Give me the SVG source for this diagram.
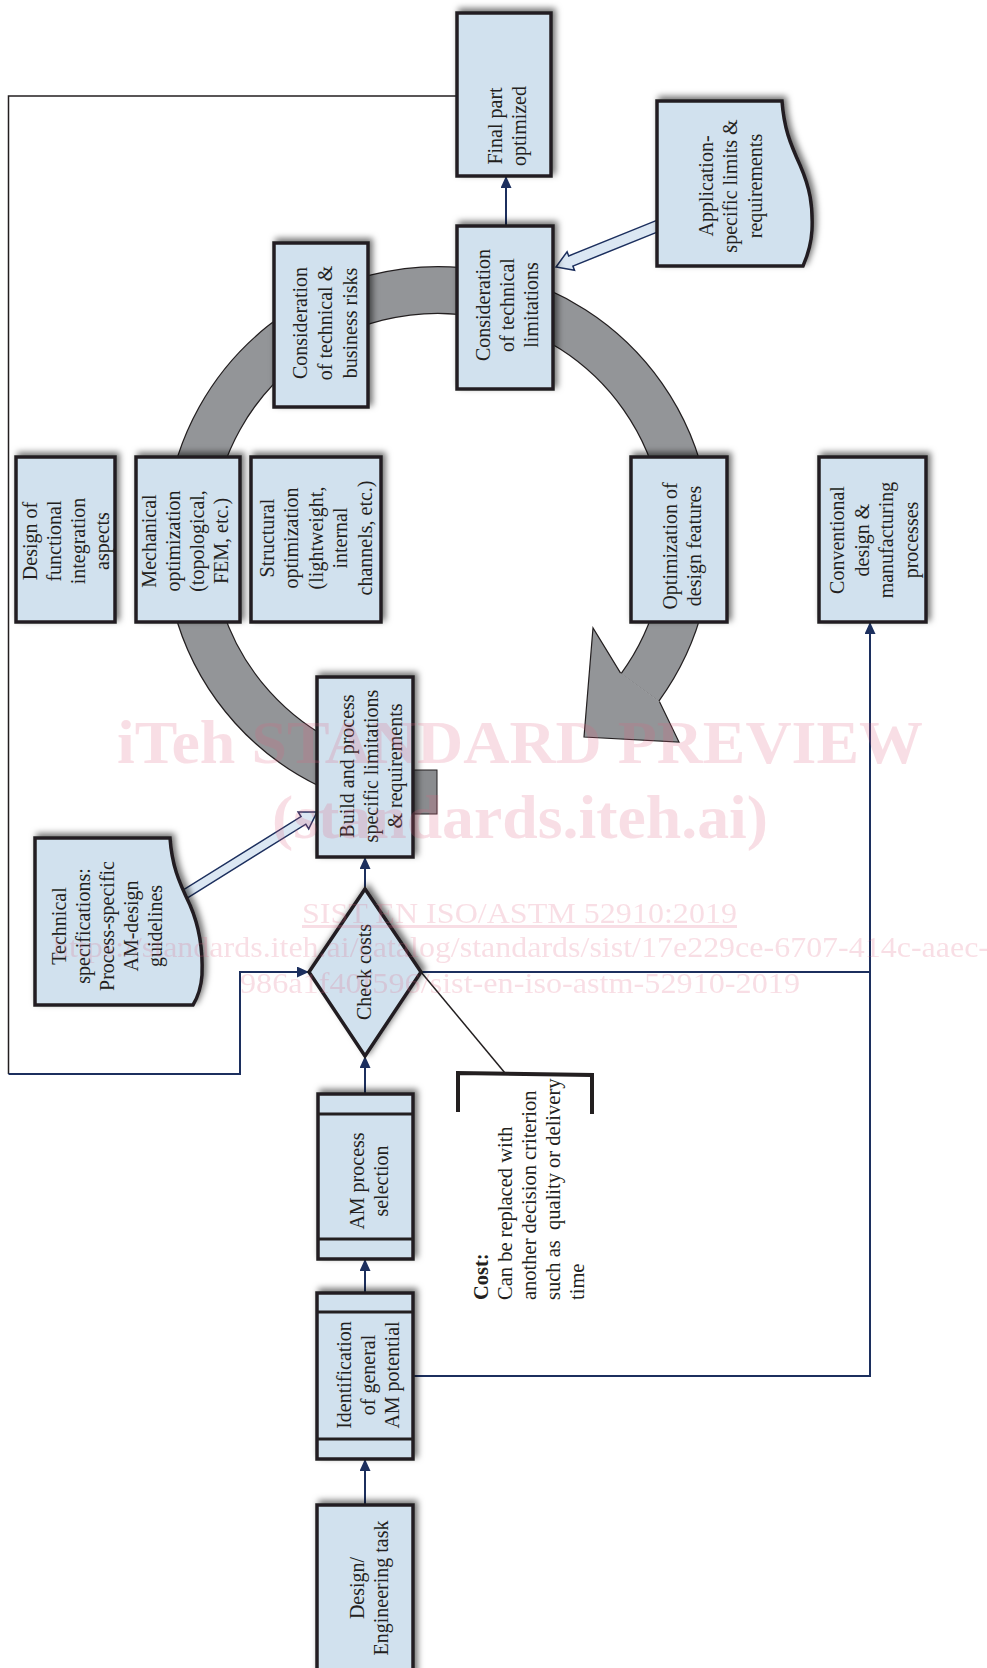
<svg xmlns="http://www.w3.org/2000/svg" width="987" height="1668" viewBox="0 0 987 1668">
<style>
.box{fill:#d1e1ee;stroke:#231f20;stroke-width:3.5;filter:url(#sh)}
.ln{stroke:#231f20;stroke-width:3}
.t{font-family:"Liberation Serif","Times New Roman",serif;font-size:20px;fill:#231f20;text-anchor:middle}
.c{font-family:"Liberation Serif","Times New Roman",serif;font-size:20.5px;fill:#231f20;white-space:pre}
.nav{stroke:#1c2f5e;stroke-width:2;fill:none}
.hol{fill:#dbe7f3;stroke:#1c2f5e;stroke-width:1.5}
.wm{font-family:"Liberation Serif","Times New Roman",serif;fill:#e0607f;opacity:0.2}
</style>
<defs>
<filter id="sh" x="-20%" y="-20%" width="140%" height="140%">
<feDropShadow dx="3" dy="-3" stdDeviation="3" flood-color="#000" flood-opacity="0.55"/>
</filter>
<marker id="ah" viewBox="0 0 12 11" refX="12" refY="5.5" markerWidth="12" markerHeight="11" markerUnits="userSpaceOnUse" orient="auto">
<path d="M0,0 L12,5.5 L0,11 z" fill="#1c2f5e"/>
</marker>
</defs>
<rect width="987" height="1668" fill="#fff"/>

<g id="cycle-ring">
<path d="M330,765.4 A250,250 0 1 1 640,687.3" fill="none" stroke="#231f20" stroke-width="48"/>
<path d="M330,765.4 A250,250 0 1 1 640,687.3" fill="none" stroke="#939598" stroke-width="45.5"/>
<path d="M593,628 L584,737 L679,742 L659.4,701.4 L620.6,673.1 Z" fill="#939598"/>
<path d="M659.4,701.4 L679,742 L584,737 L593,628 L620.6,673.1" fill="none" stroke="#231f20" stroke-width="1.2"/>
<rect x="413" y="770" width="24" height="44" fill="#8a8c8f" stroke="#231f20" stroke-width="1"/>
</g>

<g id="connectors">
<path d="M457,96 H8.5 V1074" fill="none" stroke="#231f20" stroke-width="1.5"/>
<path class="nav" d="M8.5,1074 H240 V972 H309" marker-end="url(#ah)"/>
<path class="nav" d="M365,1505 V1459" marker-end="url(#ah)"/>
<path class="nav" d="M365,1293 V1259" marker-end="url(#ah)"/>
<path class="nav" d="M365,1094 V1056" marker-end="url(#ah)"/>
<path class="nav" d="M365,889 V857" marker-end="url(#ah)"/>
<path class="nav" d="M506,226 V176" marker-end="url(#ah)"/>
<path class="nav" d="M421,972 H870"/>
<path class="nav" d="M413,1376 H870 V622" marker-end="url(#ah)"/>
<polygon class="hol" points="662.1,230.1 572.9,266.1 574.5,270.3 556,267 567.1,251.7 568.7,255.9 657.9,219.9"/>
<polygon class="hol" points="184.4,899.8 305.8,824.2 308.7,828.9 317,812 298.1,811.9 301,816.6 179.6,892.2"/>
<path d="M421,972 L505,1073" stroke="#231f20" stroke-width="1.5" fill="none"/>
</g>

<g id="final-part">
<rect class="box" x="457" y="13" width="94" height="163"/>
<text class="t" transform="translate(502,126) rotate(-90)"><tspan x="0" y="0">Final part</tspan><tspan x="0" dy="24">optimized</tspan></text>
</g>

<g id="technical-limitations">
<rect class="box" x="457" y="226" width="96" height="163"/>
<text class="t" transform="translate(490,305) rotate(-90)"><tspan x="0" y="0">Consideration</tspan><tspan x="0" dy="24">of technical</tspan><tspan x="0" dy="24">limitations</tspan></text>
</g>

<g id="business-risks">
<rect class="box" x="274" y="243" width="94" height="164"/>
<text class="t" transform="translate(307,323) rotate(-90)"><tspan x="0" y="0">Consideration</tspan><tspan x="0" dy="25">of technical &amp;</tspan><tspan x="0" dy="25">business risks</tspan></text>
</g>

<g id="application-limits">
<path class="box" d="M657,101 H782 C784,128 790,143 800,165 C810,188 813,205 812,230 C811,248 806,259 803,266 H657 Z"/>
<text class="t" transform="translate(712.5,186) rotate(-90)"><tspan x="0" y="0">Application-</tspan><tspan x="0" dy="24.5">specific limits &amp;</tspan><tspan x="0" dy="24.5">requirements</tspan></text>
</g>

<g id="functional-integration">
<rect class="box" x="16" y="457" width="99" height="165"/>
<text class="t" transform="translate(36.5,541) rotate(-90)"><tspan x="0" y="0">Design of</tspan><tspan x="0" dy="24">functional</tspan><tspan x="0" dy="24">integration</tspan><tspan x="0" dy="24">aspects</tspan></text>
</g>

<g id="mechanical-optimization">
<rect class="box" x="136" y="457" width="104" height="165"/>
<text class="t" transform="translate(156,541) rotate(-90)"><tspan x="0" y="0">Mechanical</tspan><tspan x="0" dy="24">optimization</tspan><tspan x="0" dy="24">(topological,</tspan><tspan x="0" dy="24">FEM, etc.)</tspan></text>
</g>

<g id="structural-optimization">
<rect class="box" x="251" y="457" width="130" height="165"/>
<text class="t" transform="translate(274,538) rotate(-90)"><tspan x="0" y="0">Structural</tspan><tspan x="0" dy="24.4">optimization</tspan><tspan x="0" dy="24.4">(lightweight,</tspan><tspan x="0" dy="24.4">internal</tspan><tspan x="0" dy="24.4">channels, etc.)</tspan></text>
</g>

<g id="design-features">
<rect class="box" x="631" y="457" width="96" height="165"/>
<text class="t" transform="translate(677,546) rotate(-90)"><tspan x="0" y="0">Optimization of</tspan><tspan x="0" dy="24">design features</tspan></text>
</g>

<g id="conventional">
<rect class="box" x="819" y="457" width="107" height="165"/>
<text class="t" transform="translate(844,540) rotate(-90)"><tspan x="0" y="0">Conventional</tspan><tspan x="0" dy="24.5">design &amp;</tspan><tspan x="0" dy="24.5">manufacturing</tspan><tspan x="0" dy="24.5">processes</tspan></text>
</g>

<g id="build-process">
<rect class="box" x="317" y="677" width="96" height="180"/>
<text class="t" transform="translate(354,766) rotate(-90)"><tspan x="0" y="0">Build and process</tspan><tspan x="0" dy="24">specific limitations</tspan><tspan x="0" dy="24">&amp; requirements</tspan></text>
</g>

<g id="technical-specifications">
<path class="box" d="M35,838 H170 C172,865 178,880 190,905 C200,928 203,950 202,975 C201,990 196,1000 193,1005 H35 Z"/>
<text class="t" transform="translate(65.6,926) rotate(-90)"><tspan x="0" y="0">Technical</tspan><tspan x="0" dy="24.2">specifications:</tspan><tspan x="0" dy="24.2">Process-specific</tspan><tspan x="0" dy="24.2">AM-design</tspan><tspan x="0" dy="24.2">guidelines</tspan></text>
</g>

<g id="check-costs">
<polygon class="box" points="309,972 365,889 421,972 365,1056"/>
<text class="t" transform="translate(371,972) rotate(-90)">Check costs</text>
</g>

<g id="cost-note">
<path d="M458,1112 V1073 L592,1075 V1114" fill="none" stroke="#231f20" stroke-width="4"/>
<text class="c" transform="translate(488,1300) rotate(-90)"><tspan x="0" y="0" font-weight="bold">Cost:</tspan><tspan x="0" dy="24">Can be replaced with</tspan><tspan x="0" dy="24">another decision criterion</tspan><tspan x="0" dy="24">such as  quality or delivery</tspan><tspan x="0" dy="24">time</tspan></text>
</g>

<g id="am-process-selection">
<rect class="box" x="318" y="1094" width="95" height="165"/>
<line class="ln" x1="318" y1="1114" x2="413" y2="1114"/>
<line class="ln" x1="318" y1="1239" x2="413" y2="1239"/>
<text class="t" transform="translate(363.5,1181) rotate(-90)"><tspan x="0" y="0">AM process</tspan><tspan x="0" dy="24">selection</tspan></text>
</g>

<g id="am-potential">
<rect class="box" x="317" y="1293" width="96" height="166"/>
<line class="ln" x1="317" y1="1312" x2="413" y2="1312"/>
<line class="ln" x1="317" y1="1439" x2="413" y2="1439"/>
<text class="t" transform="translate(351,1375) rotate(-90)"><tspan x="0" y="0">Identification</tspan><tspan x="0" dy="24">of general</tspan><tspan x="0" dy="24">AM potential</tspan></text>
</g>

<g id="engineering-task">
<rect class="box" x="317" y="1505" width="96" height="175"/>
<text class="t" transform="translate(364,1588) rotate(-90)"><tspan x="0" y="0">Design/</tspan><tspan x="0" dy="24">Engineering task</tspan></text>
</g>

<g id="watermark">
<text class="wm" x="117" y="763" font-size="62" font-weight="bold" textLength="806" lengthAdjust="spacingAndGlyphs">iTeh STANDARD PREVIEW</text>
<text class="wm" x="272" y="838" font-size="62" font-weight="bold" textLength="496" lengthAdjust="spacingAndGlyphs">(standards.iteh.ai)</text>
<text class="wm" x="302" y="923" font-size="30" textLength="435" lengthAdjust="spacingAndGlyphs" text-decoration="underline">SIST EN ISO/ASTM 52910:2019</text>
<text class="wm" x="53" y="957" font-size="30" textLength="936" lengthAdjust="spacingAndGlyphs">https://standards.iteh.ai/catalog/standards/sist/17e229ce-6707-414c-aaec-</text>
<text class="wm" x="240" y="993" font-size="30" textLength="560" lengthAdjust="spacingAndGlyphs">986a1f40f596/sist-en-iso-astm-52910-2019</text>
</g>
</svg>
